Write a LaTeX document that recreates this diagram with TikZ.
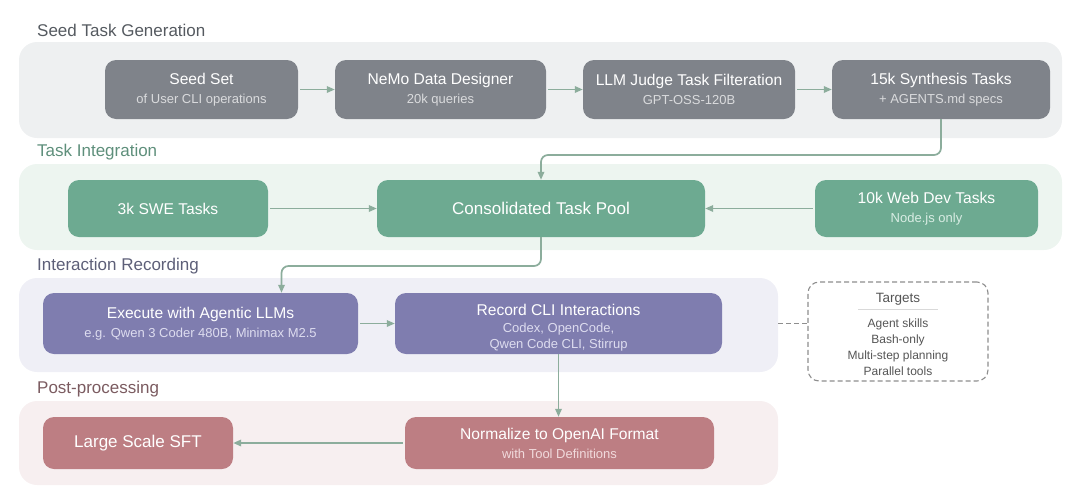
\documentclass[tikz,border=0pt]{standalone}
\usepackage{fontspec}
\setmainfont{Liberation Sans}
\usetikzlibrary{arrows.meta}
\definecolor{bgA}{HTML}{EEF0F1}
\definecolor{bgB}{HTML}{EDF5F0}
\definecolor{bgC}{HTML}{EFEFF6}
\definecolor{bgD}{HTML}{F7EFF0}
\definecolor{ndA}{HTML}{7F838A}
\definecolor{ndB}{HTML}{6DAA91}
\definecolor{ndC}{HTML}{7F7DAF}
\definecolor{ndD}{HTML}{BD7E83}
\definecolor{subA}{HTML}{DADBDD}
\definecolor{subB}{HTML}{D9EDE4}
\definecolor{subC}{HTML}{DDDCEF}
\definecolor{subD}{HTML}{F1DADC}
\definecolor{ttA}{HTML}{555A60}
\definecolor{ttB}{HTML}{5E8F7B}
\definecolor{ttC}{HTML}{5D5F78}
\definecolor{ttD}{HTML}{7B5B60}
\definecolor{arrc}{HTML}{8CAD9C}
\definecolor{dashc}{HTML}{8E8E8E}
\definecolor{txtc}{HTML}{555555}
\newcommand{\ttl}[1]{{\fontsize{15.6}{18}\selectfont #1}}
\newcommand{\sbt}[2]{{\fontsize{13}{15}\selectfont\color{#1}#2}}
\begin{document}
\begin{tikzpicture}[x=1pt,y=-1pt,
  panel/.style={draw=none,rounded corners=18pt,inner sep=0pt},
  box/.style={draw=none,rounded corners=11pt,inner sep=0pt,text=white,align=center,
    font=\fontsize{15.6}{18}\selectfont},
  sect/.style={anchor=west,inner sep=0pt,font=\fontsize{17}{20}\selectfont},
  arr/.style={draw=arrc,line width=1.7pt,-{Triangle[length=8pt,width=6.5pt]}},
  dashedline/.style={draw=dashc,line width=1.1pt,dash pattern=on 5pt off 3pt}]
\useasboundingbox (0,0) rectangle (1080,496);
% panels
\node[panel,fill=bgA,minimum width=1043pt,minimum height=96pt] (p1) at (540.5,90) {};
\node[panel,fill=bgB,minimum width=1043pt,minimum height=86pt] (p2) at (540.5,207) {};
\node[panel,fill=bgC,minimum width=759pt,minimum height=94pt] (p3) at (398.5,325) {};
\node[panel,fill=bgD,minimum width=759pt,minimum height=84pt] (p4) at (398.5,443) {};
% section titles
\node[sect,text=ttA] (t1) at (37,30) {Seed Task Generation};
\node[sect,text=ttB] (t2) at (37,152) {Task Integration};
\node[sect,text=ttC] (t3) at (37,266) {Interaction Recording};
\node[sect,text=ttD] (t4) at (37,389) {Post-processing};
% row 1
\node[box,fill=ndA,minimum width=193pt,minimum height=59pt] (seed) at (201.5,89.5)
  {\ttl{Seed Set}\\[1pt]\sbt{subA}{of User CLI operations}};
\node[box,fill=ndA,minimum width=211pt,minimum height=59pt] (nemo) at (440.5,89.5)
  {\ttl{NeMo Data Designer}\\[1pt]\sbt{subA}{20k queries}};
\node[box,fill=ndA,minimum width=212pt,minimum height=59pt] (judge) at (689,89.5)
  {\ttl{LLM Judge Task Filteration}\\[1pt]\sbt{subA}{GPT-OSS-120B}};
\node[box,fill=ndA,minimum width=218pt,minimum height=59pt] (syn) at (941,89.5)
  {\ttl{15k Synthesis Tasks}\\[1pt]\sbt{subA}{+ AGENTS.md specs}};
\draw[arr,shorten <=2pt] (seed) -- (nemo);
\draw[arr,shorten <=2pt] (nemo) -- (judge);
\draw[arr,shorten <=2pt] (judge) -- (syn);
% row 2
\node[box,fill=ndB,minimum width=200pt,minimum height=57pt] (swe) at (168,208.5)
  {\ttl{3k SWE Tasks}};
\node[box,fill=ndB,minimum width=328pt,minimum height=57pt] (pool) at (541,208.5)
  {\fontsize{17}{20}\selectfont Consolidated Task Pool};
\node[box,fill=ndB,minimum width=223pt,minimum height=57pt] (web) at (926.5,208.5)
  {\ttl{10k Web Dev Tasks}\\[1pt]\sbt{subB}{Node.js only}};
\draw[arr,shorten <=2pt] (swe) -- (pool);
\draw[arr,shorten <=2pt] (web) -- (pool);
\draw[arr,rounded corners=7pt] (syn.south) -- (syn.south |- 0,155) -- (pool.north |- 0,155) -- (pool.north);
% row 3
\node[box,fill=ndC,minimum width=315pt,minimum height=61pt] (exec) at (200.5,323.5)
  {\ttl{Execute with Agentic LLMs}\\[1pt]\sbt{subC}{e.g. Qwen 3 Coder 480B, Minimax M2.5}};
\node[box,fill=ndC,minimum width=327pt,minimum height=61pt] (rec) at (558.5,323.5) {};
\node[box,inner sep=0pt] (rectxt) at ([yshift=-4pt]rec.center)
  {\ttl{Record CLI Interactions}\\[-1pt]\sbt{subC}{Codex, OpenCode,}\\[-1.5pt]\sbt{subC}{Qwen Code CLI, Stirrup}};
\draw[arr,shorten <=2pt] (exec) -- (rec);
\coordinate (execin) at ([xshift=81pt]exec.north);
\draw[arr,rounded corners=7pt] (pool.south) -- (pool.south |- 0,266) -- (execin |- 0,266) -- (execin);
% targets
\node[draw=dashc,line width=1.1pt,dash pattern=on 5pt off 3pt,fill=white,rounded corners=11pt,
  minimum width=180pt,minimum height=99pt,inner sep=0pt] (targets) at (898,331.5) {};
\node[inner sep=0pt,text=txtc,font=\fontsize{13.5}{15}\selectfont] (tgt) at (898,299) {Targets};
\coordinate (ulA) at (858,309);
\coordinate (ulB) at (938,309);
\draw[draw=black!15,line width=0.8pt] (ulA) -- (ulB);
\node[inner sep=0pt,text=txtc,align=center,font=\fontsize{12}{16}\selectfont] (items) at (898,347)
  {Agent skills\\Bash-only\\Multi-step planning\\Parallel tools};
\draw[dashedline] (rec -| p3.east) -- (rec -| targets.west);
% row 4
\node[box,fill=ndD,minimum width=190pt,minimum height=52pt] (sft) at (138,443)
  {\fontsize{17}{20}\selectfont Large Scale SFT};
\node[box,fill=ndD,minimum width=309pt,minimum height=52pt] (norm) at (559.5,443)
  {\ttl{Normalize to OpenAI Format}\\[1pt]\sbt{subD}{with Tool Definitions}};
\draw[arr,shorten <=2pt] (norm) -- (sft);
\draw[arr] (rec.south) -- (rec.south |- norm.north);
\end{tikzpicture}
\end{document}
